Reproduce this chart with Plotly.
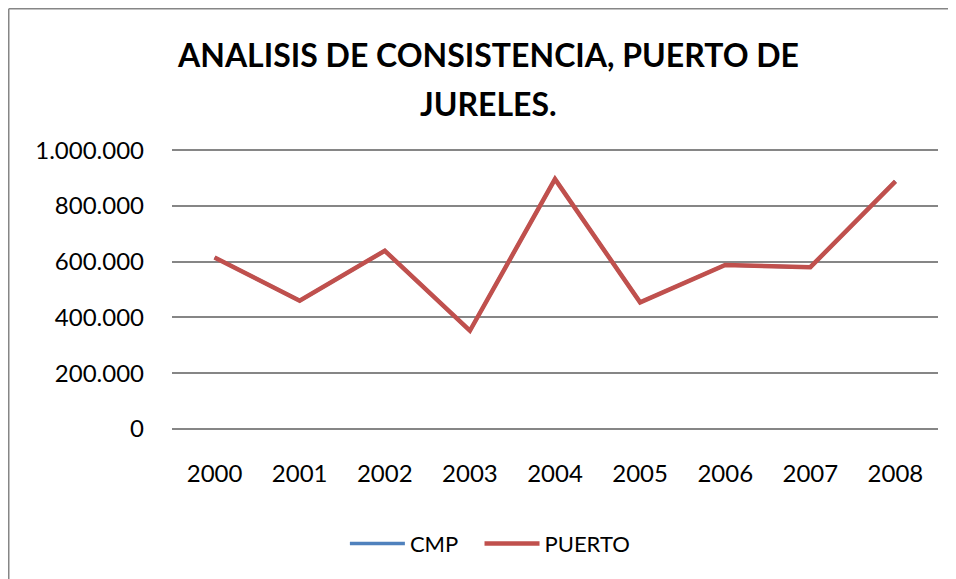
import plotly.graph_objects as go

years = ["2000", "2001", "2002", "2003", "2004", "2005", "2006", "2007", "2008"]
puerto = [615000, 460000, 639000, 352000, 896000, 454000, 588000, 580000, 888000]
cmp_vals = [615000, 460000, 639000, 352000, 896000, 454000, 588000, 580000, 888000]
y_ticks = [0, 200000, 400000, 600000, 800000, 1000000]
title_lines = ["ANALISIS DE CONSISTENCIA, PUERTO DE", "JURELES."]

FONT = "Lato"

# page is offset by the 8px body margin, so the figure is a bit smaller
W, H = 948, 571
L, T, PW, PH = 164, 141, 766, 281

fig = go.Figure()

fig.add_trace(go.Scatter(
    x=years, y=cmp_vals, name="CMP\u00a0\u00a0\u00a0", mode="lines",
    line=dict(color="#4F81BD", width=3.5)
))
fig.add_trace(go.Scatter(
    x=years, y=puerto, name="PUERTO", mode="lines",
    line=dict(color="#C0504D", width=4.5)
))

fig.update_layout(
    width=W, height=H,
    margin=dict(l=L, r=W - L - PW, t=T, b=H - T - PH, autoexpand=False),
    paper_bgcolor="white",
    plot_bgcolor="white",
    separators=",.",
    font=dict(family=FONT, size=24, color="black"),
    xaxis=dict(
        type="category", range=[-0.5, 8.5], showgrid=False, showline=False,
        zeroline=False, ticks="", ticklabelstandoff=27,
    ),
    yaxis=dict(
        range=[-4000, 1004000], tickvals=y_ticks, tickformat=",d",
        showgrid=True, gridcolor="#868686", gridwidth=1.5,
        zeroline=False, showline=False, ticks="", ticklabelstandoff=27,
    ),
    legend=dict(
        orientation="h", x=0.415, xanchor="center",
        y=-0.405, yanchor="middle", font=dict(size=22),
        itemwidth=55,
    ),
    showlegend=True,
)

# title, two lines
for txt, py in zip(title_lines, [47, 95]):
    fig.add_annotation(
        text="<b>" + txt + "</b>", xref="paper", yref="paper",
        x=(480 - L) / PW, y=(T + PH - py) / PH,
        xanchor="center", yanchor="middle", showarrow=False,
        font=dict(family=FONT, size=32, color="black"),
    )

# outer chart border (only left and top edges fall inside the picture)
bx = (0.75 - L) / PW
by = (T + PH - 0.75) / PH
fig.add_shape(type="line", xref="paper", yref="paper",
              x0=bx, x1=bx, y0=by, y1=-(H - T - PH) / PH - 0.1,
              line=dict(color="#868686", width=1.5))
fig.add_shape(type="line", xref="paper", yref="paper",
              x0=bx, x1=(W + 10 - L) / PW, y0=by, y1=by,
              line=dict(color="#868686", width=1.5))

fig.write_html("out.html")
